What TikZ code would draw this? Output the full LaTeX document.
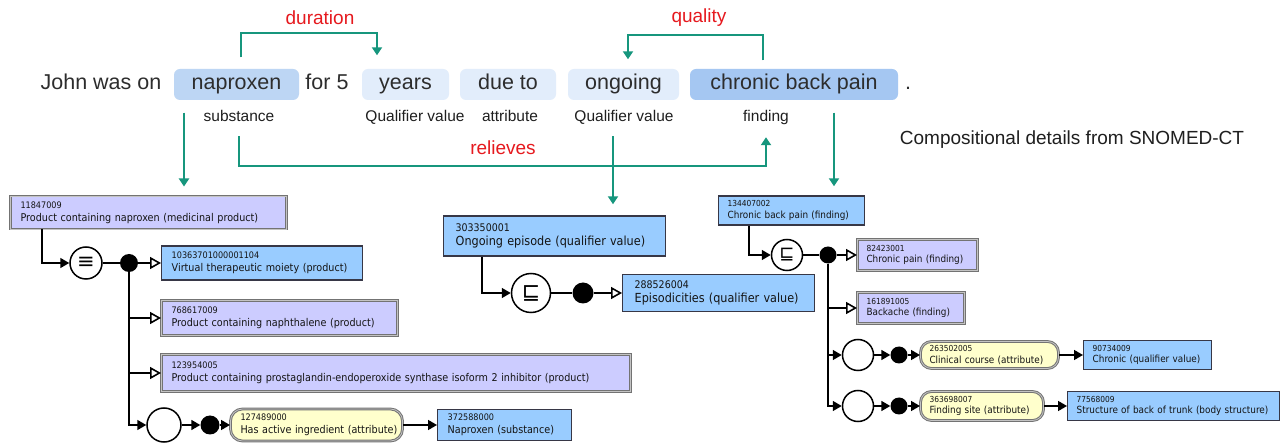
\documentclass[tikz,border=0pt]{standalone}
\usepackage{fontspec}
\setmainfont{Liberation Sans}
\newfontfamily\snofont[FakeStretch=0.9]{DejaVu Sans}
\newfontfamily\symfont{DejaVu Sans}
\usetikzlibrary{arrows.meta,calc}

\definecolor{tealc}{RGB}{22,150,125}
\definecolor{redc}{RGB}{230,25,30}
\definecolor{tokmid}{RGB}{189,214,244}
\definecolor{toklight}{RGB}{226,237,251}
\definecolor{tokdark}{RGB}{165,199,242}
\definecolor{lavfill}{RGB}{204,204,255}
\definecolor{primfill}{RGB}{153,204,255}
\definecolor{attrfill}{RGB}{255,255,204}
\definecolor{txtc}{RGB}{45,45,45}
\definecolor{edgec}{RGB}{115,115,115}
\definecolor{edgein}{RGB}{195,195,195}
\definecolor{primedge}{RGB}{55,55,70}

% concept box content: small id line, then the name
\newcommand\cpt[3]{{\fontsize{#1}{#1}\selectfont #2}\\\mbox{#3}}

\tikzset{
  tok/.style={rounded corners=6pt, minimum height=31pt, inner sep=0pt,
    text height=15.5pt, text depth=4.5pt, text=txtc,
    font=\fontsize{21.5}{24}\selectfont},
  word/.style={inner sep=0pt, text height=15.5pt, text depth=4.5pt, text=txtc,
    font=\fontsize{21.5}{24}\selectfont},
  lbl/.style={inner sep=0pt, text height=11.5pt, text depth=3.5pt,
    text=black!88, font=\fontsize{15.5}{18}\selectfont},
  rel/.style={inner sep=0pt, text=redc, font=\fontsize{19}{22}\selectfont},
  tarr/.style={draw=tealc, line width=2pt, -{Triangle[length=8pt,width=10pt]}},
  concept/.style={anchor=west, inner ysep=0pt, align=left, text=black!92},
  lavbox/.style={concept, fill=lavfill, draw=edgec, line width=1pt,
    double=edgein, double distance=0.8pt},
  primbox/.style={concept, fill=primfill, draw=primedge, line width=1.4pt},
  attrbox/.style={concept, fill=attrfill, draw=edgec, line width=1pt,
    double=edgein, double distance=0.8pt, rounded corners=12pt},
  grpL/.style={inner xsep=10pt, font=\snofont\fontsize{10.7}{13}\selectfont},
  grpM/.style={inner xsep=12pt, font=\snofont\fontsize{12.5}{14.5}\selectfont},
  grpR/.style={inner xsep=9pt, font=\snofont\fontsize{9.85}{11.5}\selectfont},
  opnode/.style={circle, draw, line width=1.5pt, fill=white, inner sep=0pt},
  dotn/.style={circle, fill=black, inner sep=0pt},
  plainc/.style={line width=1.6pt},
  blkarr/.style={line width=1.6pt, -{Triangle[length=9pt,width=10pt]}},
  isaarr/.style={line width=1.6pt, -{Triangle[open,length=11pt,width=12pt,fill=white]}},
}

\begin{document}
\begin{tikzpicture}[x=1pt,y=-1pt]
\useasboundingbox (0,0) rectangle (1283,443);
\fill[white] (0,0) rectangle (1283,443);

% ---- annotated sentence ----
\node[word] (john) at (101,84.5) {John was on};
\node[tok, fill=tokmid, minimum width=125pt] (nap) at (236.5,84.5) {naproxen};
\node[word] (for) at (327,84.5) {for 5};
\node[tok, fill=toklight, minimum width=87pt] (yrs) at (405.5,84.5) {years};
\node[tok, fill=toklight, minimum width=96pt] (due) at (508,84.5) {due to};
\node[tok, fill=toklight, minimum width=111pt] (ong) at (623.5,84.5) {ongoing};
\node[tok, fill=tokdark, minimum width=208pt] (cbp) at (794,84.5) {chronic back pain};
\node[word] (stop) at (908,84.5) {.};

\node[lbl] (lsub) at (239,118) {substance};
\node[lbl] (lq1) at (415,118) {Qualifier value};
\node[lbl] (latt) at (510,118) {attribute};
\node[lbl] (lq2) at (624,118) {Qualifier value};
\node[lbl] (lfnd) at (766,118) {finding};

\node[inner sep=0pt, text=black!88, font=\fontsize{19}{22}\selectfont] (comp)
  at (1072,140) {Compositional details from SNOMED-CT};

\node[rel] (rdur) at (320,18) {duration};
\node[rel] (rqual) at (699,18) {quality};
\node[rel] (rrel) at (503,148) {relieves};

% ---- left group: naproxen ----
\node[lavbox, grpL, minimum width=276pt, text width=256pt, minimum height=33pt] (A)
  at (10,212.5) {\cpt{9}{11847009}{Product containing naproxen (medicinal product)}};
\node[opnode, minimum size=32pt, font=\symfont\fontsize{21}{21}\selectfont] (c1) at (86,263) {≡};
\node[dotn, minimum size=18pt] (d1) at (129,263) {};
\node[primbox, grpL, minimum width=201pt, text width=181pt, minimum height=34pt] (B)
  at (161,263) {\cpt{9}{10363701000001104}{Virtual therapeutic moiety (product)}};
\node[lavbox, grpL, minimum width=236pt, text width=216pt, minimum height=35pt] (C)
  at (161,318) {\cpt{9}{768617009}{Product containing naphthalene (product)}};
\node[lavbox, grpL, minimum width=469pt, text width=449pt, minimum height=37pt] (D)
  at (161,373) {\cpt{9}{123954005}{Product containing prostaglandin-endoperoxide synthase isoform 2 inhibitor (product)}};
\node[opnode, minimum size=34pt] (c2) at (164,425) {};
\node[dotn, minimum size=19pt] (d2) at (210,425) {};
\node[attrbox, grpL, minimum width=172pt, text width=152pt, minimum height=32pt] (P1)
  at (230,425) {\cpt{9}{127489000}{Has active ingredient (attribute)}};
\node[primbox, grpL, minimum width=134pt, text width=114pt, minimum height=31pt] (N1)
  at (437,425) {\cpt{9}{372588000}{Naproxen (substance)}};

\draw[blkarr] ($(A.south west)+(32,0)$) |- (c1);
\draw[plainc] (c1) -- (d1);
\draw[isaarr] (d1) -- (B);
\draw[isaarr] (d1) |- (C);
\draw[isaarr] (d1) |- (D);
\draw[blkarr] (d1) |- (c2);
\draw[blkarr] (c2) -- (d2);
\draw[blkarr] (d2) -- (P1);
\draw[blkarr] (P1) -- (N1);

% ---- middle group: ongoing ----
\node[primbox, grpM, minimum width=222pt, text width=198pt, minimum height=40pt] (E)
  at (443,236) {\cpt{10.5}{303350001}{Ongoing episode (qualifier value)}};
\node[opnode, minimum size=39pt, font=\symfont\fontsize{22}{22}\selectfont] (c3) at (531,293) {⊑};
\node[dotn, minimum size=21pt] (d3) at (583,293) {};
\node[primbox, grpM, minimum width=192pt, text width=168pt, minimum height=37pt] (F)
  at (622,293) {\cpt{10.5}{288526004}{Episodicities (qualifier value)}};

\draw[blkarr] ($(E.south west)+(39,0)$) |- (c3);
\draw[plainc] (c3) -- (d3);
\draw[isaarr] (d3) -- (F);

% ---- right group: chronic back pain ----
\node[primbox, grpR, minimum width=146pt, text width=128pt, minimum height=29pt] (G)
  at (718,210.5) {\cpt{8.3}{134407002}{Chronic back pain (finding)}};
\node[opnode, minimum size=31pt, font=\symfont\fontsize{18}{18}\selectfont] (c4) at (787,255) {⊑};
\node[dotn, minimum size=17pt] (d4) at (828,255) {};
\node[lavbox, grpR, minimum width=120pt, text width=102pt, minimum height=31pt] (H)
  at (857,255) {\cpt{8.3}{82423001}{Chronic pain (finding)}};
\node[lavbox, grpR, minimum width=107pt, text width=89pt, minimum height=31pt] (I)
  at (857,308) {\cpt{8.3}{161891005}{Backache (finding)}};
\node[opnode, minimum size=31pt] (c5) at (858,355) {};
\node[dotn, minimum size=17pt] (d5) at (899,355) {};
\node[attrbox, grpR, rounded corners=11pt, minimum width=138pt, text width=120pt, minimum height=27pt] (P2)
  at (920,355) {\cpt{8.3}{263502005}{Clinical course (attribute)}};
\node[primbox, grpR, minimum width=128pt, text width=110pt, minimum height=29pt] (K)
  at (1083,355) {\cpt{8.3}{90734009}{Chronic (qualifier value)}};
\node[opnode, minimum size=31pt] (c6) at (858,406) {};
\node[dotn, minimum size=17pt] (d6) at (899,406) {};
\node[attrbox, grpR, rounded corners=11pt, minimum width=123pt, text width=105pt, minimum height=29pt] (P3)
  at (920,406) {\cpt{8.3}{363698007}{Finding site (attribute)}};
\node[primbox, grpR, minimum width=212pt, text width=194pt, minimum height=29pt] (L)
  at (1067,406) {\cpt{8.3}{77568009}{Structure of back of trunk (body structure)}};

\draw[blkarr] ($(G.south west)+(31,0)$) |- (c4);
\draw[plainc] (c4) -- (d4);
\draw[isaarr] (d4) -- (H);
\draw[isaarr] (d4) |- (I);
\draw[blkarr] (d4) |- (c5);
\draw[blkarr] (d4) |- (c6);
\draw[blkarr] (c5) -- (d5);
\draw[blkarr] (d5) -- (P2);
\draw[blkarr] (P2) -- (K);
\draw[blkarr] (c6) -- (d6);
\draw[blkarr] (d6) -- (P3);
\draw[blkarr] (P3) -- (L);

% ---- teal relation arrows ----
\draw[tarr, shorten <=11.5pt, shorten >=13.5pt] ([xshift=4.5pt]nap.north) -- ++(0,-35.5) -| ([xshift=-28.5pt]yrs.north);
\draw[tarr, shorten <=8.5pt, shorten >=9.5pt] ([xshift=-31pt]cbp.north) -- ++(0,-33.5) -| ([xshift=4.5pt]ong.north);
\draw[tarr, shorten <=10.5pt, shorten >=11.5pt] (lsub.south) -- ++(0,40.5) -| (lfnd.south);
\draw[tarr, shorten <=12.5pt, shorten >=9pt] ([xshift=-52.5pt]nap.south) -- ([xshift=-52.5pt]nap.south |- A.north);
\draw[tarr, shorten <=10.5pt, shorten >=11pt] ([xshift=-11pt]lq2.south) -- ([xshift=-11pt]lq2.south |- E.north);
\draw[tarr, shorten <=12.5pt, shorten >=9pt] ([xshift=40pt]cbp.south) -- ([xshift=40pt]cbp.south |- G.north);
\end{tikzpicture}
\end{document}
